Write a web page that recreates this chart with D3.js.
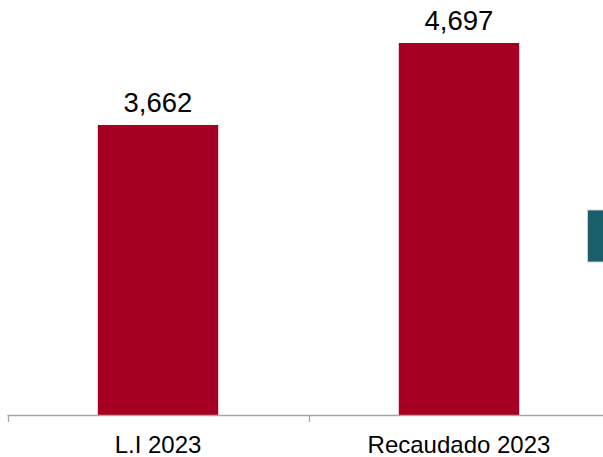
<!DOCTYPE html>
<html><head><meta charset="utf-8">
<script src="https://cdn.jsdelivr.net/npm/d3@7"></script>
<style>body{margin:0;background:#fff}svg{display:block}</style>
</head><body>
<script>
const categories = ["L.I 2023", "Recaudado 2023", ""];
const values = [3662, 4697, null];
const sideCategories = ["next"];
const sideValues = [2660];

const W = 603, H = 457;
const svg = d3.select("body").append("svg").attr("width", W).attr("height", H)
  .style("font-family", "'Liberation Sans', Arial, sans-serif");

const x = d3.scaleBand().domain(categories).range([7.5, 910.5]).paddingInner(0.6).paddingOuter(0.3);
const y = d3.scaleLinear().domain([0, 5240]).range([415, 0]);

const data = categories.map((c, i) => ({c, v: values[i]})).filter(d => d.v != null);

svg.selectAll("rect.bar").data(data).enter().append("rect")
  .attr("class", "bar")
  .attr("x", d => x(d.c)).attr("width", x.bandwidth())
  .attr("y", d => y(d.v)).attr("height", d => y(0) - y(d.v))
  .attr("fill", "#a50021");

// partial bar from adjacent chart on right edge
const xs = d3.scaleBand().domain(sideCategories).range([587.5, 650]);
const ys = d3.scaleLinear().domain([0, 5240]).range([262 + 0, 262 - 52 * 5240 / 2660]);
svg.selectAll("rect.side").data(sideValues).enter().append("rect")
  .attr("class", "side")
  .attr("x", xs("next")).attr("width", 30)
  .attr("y", d => ys(d)).attr("height", d => ys(0) - ys(d))
  .attr("fill", "#1b5e6b").attr("stroke", "#c8d3d6").attr("stroke-width", 1);

svg.selectAll("text.val").data(data).enter().append("text")
  .attr("class", "val")
  .attr("x", d => x(d.c) + x.bandwidth() / 2)
  .attr("y", d => y(d.v) - 13)
  .attr("text-anchor", "middle").attr("font-size", "27.5px").attr("fill", "#000")
  .text(d => d3.format(",")(d.v));

// axis
const axisG = svg.append("g");
axisG.append("line").attr("x1", 7.5).attr("x2", W).attr("y1", 415.5).attr("y2", 415.5)
  .attr("stroke", "#a6a6a6").attr("stroke-width", 1.3);
const tickPos = categories.map((c, i) => x(c) - x.bandwidth() * 0.75);
axisG.selectAll("line.tick").data(tickPos).enter().append("line")
  .attr("x1", d => Math.round(d) + 0.5).attr("x2", d => Math.round(d) + 0.5)
  .attr("y1", 415).attr("y2", 422).attr("stroke", "#a6a6a6").attr("stroke-width", 1.3);

svg.selectAll("text.cat").data(categories.slice(0, 2)).enter().append("text")
  .attr("class", "cat")
  .attr("x", d => x(d) + x.bandwidth() / 2).attr("y", 453)
  .attr("text-anchor", "middle").attr("font-size", "24px").attr("fill", "#000")
  .text(d => d);
</script>
</body></html>
